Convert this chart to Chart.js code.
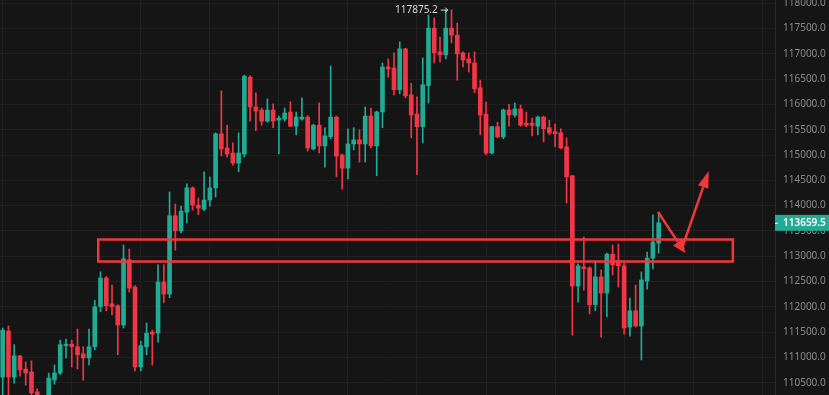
<!DOCTYPE html>
<html>
<head>
<meta charset="utf-8">
<script src="https://cdn.jsdelivr.net/npm/chart.js@4.4.1/dist/chart.umd.min.js"></script>
<style>
  html, body { margin: 0; padding: 0; background: #151515; }
  #wrap { width: 829px; height: 395px; }
</style>
</head>
<body>
<div id="wrap"><canvas id="chart" width="829" height="395"></canvas></div>
<script>
// candles, one entry per bar
const opens = [110610, 111520, 110610, 111030, 110770, 110710, 110320, 110230, 110200, 110550,
  110690, 111230, 111260, 111210, 111070, 110990, 111210, 112000, 112570, 112060,
  112020, 111640, 112930, 112390, 110810, 111210, 111500, 111480, 112490, 112250,
  113800, 113500, 113870, 114350, 114010, 113930, 114110, 114350, 115420, 115140,
  115040, 114840, 115020, 116540, 115950, 115890, 115670, 115890, 115690, 115710,
  115850, 115570, 115710, 115750, 115120, 115590, 115180, 115360, 115750, 115000,
  114740, 115220, 115300, 115220, 115770, 115180, 115850, 116740, 116720, 116290,
  117100, 116190, 115810, 115560, 116370, 117510, 117040, 116980, 117510, 117370,
  117020, 116900, 116820, 116330, 115810, 115040, 115560, 115360, 115890, 115790,
  115910, 115630, 115630, 115570, 115750, 115540, 115460, 115440, 115160, 114590,
  112410, 112790, 112770, 112040, 112590, 112270, 113040, 112910, 112810, 111600,
  111920, 111620, 112510, 112960, 113260];
const highs = [111580, 111620, 111250, 111040, 110910, 110930, 110380, 110250, 110690, 110850,
  111340, 111360, 111340, 111560, 111210, 111560, 112130, 112690, 112600, 112430,
  112040, 113220, 113140, 112420, 111320, 111680, 111540, 112830, 112830, 114270,
  114030, 113990, 114430, 114370, 114150, 114670, 114570, 115440, 116270, 115590,
  115240, 115440, 116580, 116570, 116230, 115930, 116110, 116010, 115770, 115930,
  116050, 115850, 116130, 115780, 115610, 116030, 115540, 116760, 115770, 115020,
  115520, 115540, 115500, 115950, 115930, 115870, 116820, 116900, 117020, 117240,
  117110, 116420, 116150, 116920, 117770, 117710, 117330, 117875.2, 117870, 117610,
  117040, 117020, 117040, 116480, 116050, 115570, 115650, 115910, 116000, 116030,
  115990, 115850, 115730, 115770, 115770, 115690, 115610, 115520, 115340, 114600,
  112850, 113380, 112790, 112910, 112730, 113060, 113220, 113240, 112870, 112170,
  112430, 112690, 113080, 113820, 113870];
const lows = [110160, 110160, 110490, 110630, 110450, 110200, 110150, 110020, 110150, 110470,
  110660, 110990, 110810, 110770, 110550, 110850, 111150, 111900, 111920, 111840,
  111050, 111580, 112290, 110730, 110730, 111050, 110850, 111300, 112080, 112180,
  113120, 113460, 113660, 113910, 113820, 113900, 113990, 114170, 114980, 114960,
  114800, 114670, 114960, 115670, 115480, 115590, 115650, 115540, 115020, 115670,
  115560, 115400, 115690, 115080, 115100, 115040, 114760, 115320, 114570, 114330,
  114530, 115100, 114860, 114860, 115140, 114590, 115540, 116540, 116190, 116210,
  116130, 115340, 114610, 115240, 116030, 116820, 116840, 116900, 117220, 116480,
  116740, 116640, 116230, 115400, 115000, 115020, 115340, 115320, 115570, 115750,
  115570, 115560, 115380, 115400, 115260, 115400, 115160, 115120, 114050, 111440,
  112090, 112330, 111860, 111920, 111400, 111800, 112630, 112390, 111460, 111420,
  111600, 110950, 112350, 112750, 113060];
const closes = [111540, 110610, 111030, 110750, 110690, 110300, 110240, 110120, 110590, 110690,
  111250, 111260, 111210, 111050, 110990, 111210, 112000, 112570, 112020, 112000,
  111640, 112950, 112370, 110810, 111230, 111480, 111460, 112490, 112250, 113800,
  113500, 113890, 114350, 114010, 113950, 114110, 114350, 115420, 115120, 115020,
  114840, 115040, 116560, 115950, 115870, 115670, 115890, 115670, 115730, 115830,
  115570, 115750, 115750, 115140, 115590, 115180, 115380, 115750, 114980, 114740,
  115220, 115300, 115220, 115770, 115180, 115850, 116740, 116700, 116290, 117100,
  116170, 115790, 115560, 116390, 117510, 117020, 116980, 117510, 117370, 117000,
  116880, 116820, 116310, 115790, 115040, 115560, 115360, 115890, 115790, 115910,
  115590, 115590, 115590, 115750, 115520, 115440, 115420, 115140, 114570, 112410,
  112810, 112750, 112040, 112590, 112270, 113040, 112830, 112810, 111580, 111920,
  111620, 112530, 112960, 113280, 113659.5];

const yTicks = [110500, 111000, 111500, 112000, 112500, 113000, 113500, 114000,
  114500, 115000, 115500, 116000, 116500, 117000, 117500, 118000];
const xGrid = [6, 18, 30, 42, 54, 66, 78, 90, 102, 114, 126];

// hand drawn marks: support zone and two arrows (bar index / price)
const zoneFrom = 16.6, zoneTo = 126.9, zoneHigh = 113330, zoneLow = 112895;
const arrowDown = [[113.9, 113874], [118.6, 113063]];
const arrowUp = [[118.2, 113202], [122.7, 114685]];

const UP = '#22ab94', DOWN = '#f23645', MARK = '#f0383c';
const colorOf = closes.map((c, i) => c >= opens[i] ? UP : DOWN);

function drawArrow(ctx, x0, y0, x1, y1, len, half) {
  const ang = Math.atan2(y1 - y0, x1 - x0);
  const bx = x1 - Math.cos(ang) * len, by = y1 - Math.sin(ang) * len;
  ctx.beginPath();
  ctx.moveTo(x0, y0);
  ctx.lineTo(bx, by);
  ctx.stroke();
  ctx.beginPath();
  ctx.moveTo(x1, y1);
  ctx.lineTo(bx + Math.sin(ang) * half, by - Math.cos(ang) * half);
  ctx.lineTo(bx - Math.sin(ang) * half, by + Math.cos(ang) * half);
  ctx.closePath();
  ctx.fill();
}

const overlay = {
  id: 'overlay',
  beforeDraw(chart) {
    const ctx = chart.ctx;
    ctx.save();
    ctx.fillStyle = '#151515';
    ctx.fillRect(0, 0, chart.width, chart.height);
    ctx.restore();
  },
  afterDraw(chart) {
    const { ctx, chartArea } = chart;
    const x = chart.scales.x, y = chart.scales.y;
    ctx.save();

    // high marker, text plus a small arrow pointing at the wick
    let hi = 0;
    highs.forEach((h, i) => { if (h > highs[hi]) hi = i; });
    const hx = x.getPixelForValue(hi), hy = y.getPixelForValue(highs[hi]) + 0.5;
    ctx.font = '10px "Noto Sans", "DejaVu Sans"';
    ctx.fillStyle = '#d8d8d8';
    ctx.strokeStyle = '#d8d8d8';
    ctx.textAlign = 'right';
    ctx.textBaseline = 'middle';
    ctx.fillText(highs[hi].toFixed(1), hx - 8, hy);
    ctx.lineWidth = 1;
    ctx.beginPath();
    ctx.moveTo(hx - 5, hy); ctx.lineTo(hx + 2, hy);
    ctx.moveTo(hx - 0.5, hy - 2.5); ctx.lineTo(hx + 2, hy); ctx.lineTo(hx - 0.5, hy + 2.5);
    ctx.stroke();

    // zone box
    ctx.strokeStyle = MARK;
    ctx.fillStyle = MARK;
    ctx.lineWidth = 2.5;
    const bx0 = x.getPixelForValue(zoneFrom), bx1 = x.getPixelForValue(zoneTo);
    const by0 = y.getPixelForValue(zoneHigh), by1 = y.getPixelForValue(zoneLow);
    ctx.strokeRect(bx0, by0, bx1 - bx0, by1 - by0);

    // arrows
    ctx.lineWidth = 2.5;
    drawArrow(ctx, x.getPixelForValue(arrowDown[0][0]), y.getPixelForValue(arrowDown[0][1]),
      x.getPixelForValue(arrowDown[1][0]), y.getPixelForValue(arrowDown[1][1]), 13, 6);
    drawArrow(ctx, x.getPixelForValue(arrowUp[0][0]), y.getPixelForValue(arrowUp[0][1]),
      x.getPixelForValue(arrowUp[1][0]), y.getPixelForValue(arrowUp[1][1]), 17, 5.5);

    // last price tag
    const last = closes[closes.length - 1];
    const py = y.getPixelForValue(last);
    ctx.fillStyle = UP;
    ctx.fillRect(chartArea.right, py - 8, chart.width - chartArea.right, 16);
    ctx.fillStyle = '#ffffff';
    ctx.font = '600 10px "Noto Sans"';
    ctx.textAlign = 'left';
    ctx.fillText(last.toFixed(1), chartArea.right + 8, py + 0.5);
    ctx.fillRect(chartArea.right, py, 3, 1);
    ctx.restore();
  }
};

new Chart(document.getElementById('chart'), {
  type: 'bar',
  data: {
    datasets: [
      {
        data: opens.map((o, i) => ({ x: i, y: [o, closes[i]] })),
        backgroundColor: colorOf,
        barThickness: 4,
        minBarLength: 1,
        grouped: false
      },
      {
        data: lows.map((l, i) => ({ x: i, y: [l, highs[i]] })),
        backgroundColor: colorOf,
        barThickness: 1,
        grouped: false
      }
    ]
  },
  options: {
    responsive: false,
    animation: false,
    devicePixelRatio: 1,
    layout: { padding: 0 },
    plugins: { legend: { display: false }, tooltip: { enabled: false } },
    scales: {
      x: {
        type: 'linear',
        min: -0.47,
        max: 134.22,
        offset: false,
        afterBuildTicks: s => { s.ticks = xGrid.map(v => ({ value: v })); },
        afterFit: s => { s.height = 0; },
        ticks: { display: false },
        grid: { color: '#202020', drawTicks: false },
        border: { display: false }
      },
      y: {
        position: 'right',
        min: 110256,
        max: 118065,
        afterBuildTicks: s => { s.ticks = yTicks.map(v => ({ value: v })); },
        afterFit: s => { s.width = 54; s.paddingTop = 0; s.paddingBottom = 0; },
        ticks: {
          callback: v => Number(v).toFixed(1),
          color: '#8a8a8a',
          font: { family: '"Noto Sans"', size: 10 },
          padding: 8
        },
        grid: { color: '#202020', drawTicks: false },
        border: { color: '#2a2a2a' }
      }
    }
  },
  plugins: [overlay]
});
</script>
</body>
</html>
